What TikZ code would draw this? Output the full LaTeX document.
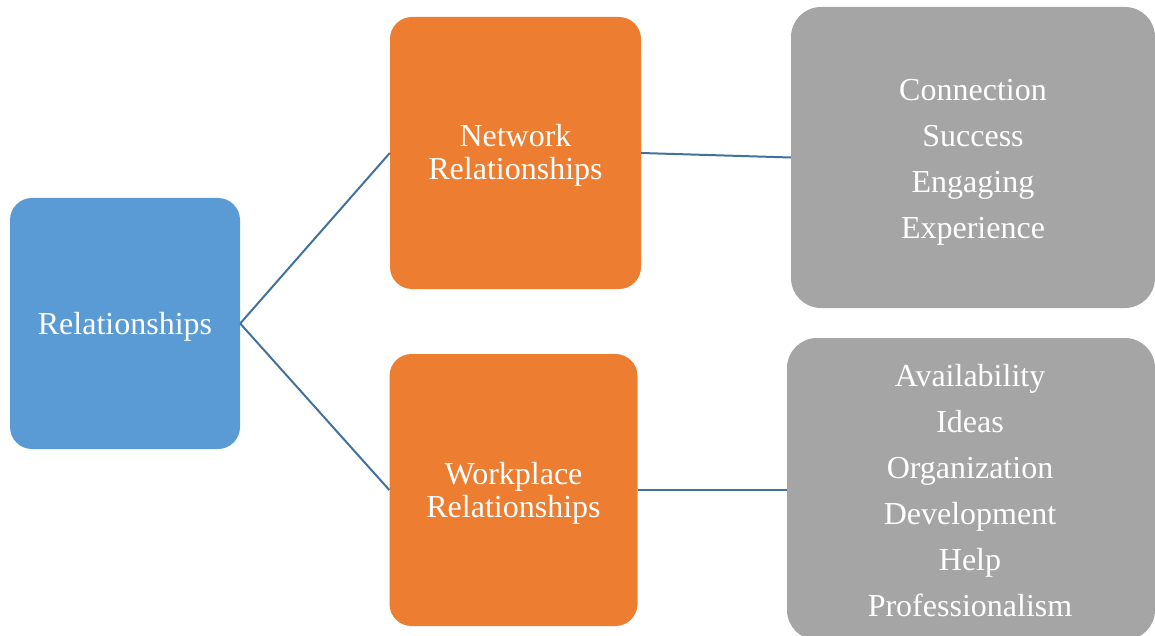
\documentclass[tikz,border=0pt]{standalone}
\usepackage{fontspec}
\setmainfont{Liberation Serif}
\definecolor{cblue}{HTML}{5B9BD5}
\definecolor{corange}{HTML}{ED7D31}
\definecolor{cgray}{HTML}{A5A5A5}
\definecolor{cline}{HTML}{41719C}
\begin{document}
\begin{tikzpicture}[x=1pt,y=-1pt,
  box/.style={rounded corners=22pt, inner sep=0pt},
  listbox/.style={box, rounded corners=30pt, fill=cgray},
  txt/.style={inner sep=0pt, text=white, align=center, font=\fontsize{32}{33}\selectfont},
  listtxt/.style={txt, font=\fontsize{32}{46}\selectfont},
  link/.style={draw=cline, line width=2pt}]
\useasboundingbox (0,0) rectangle (1155,636);
\node[box, fill=cblue, minimum width=230pt, minimum height=251pt] (rel) at (125,323.5) {};
\node[box, fill=corange, minimum width=251pt, minimum height=272pt] (net) at (515.5,153) {};
\node[box, fill=corange, minimum width=248pt, minimum height=272pt] (work) at (513.5,490) {};
\node[listbox, minimum width=364pt, minimum height=301pt] (ga) at (973,157.5) {};
\node[listbox, minimum width=368pt, minimum height=302pt] (gb) at (971,489) {};
\node[txt] (relt) at ([yshift=-3pt]rel.center) {Relationships};
\node[txt] (nett) at ([yshift=-2pt]net.center) {Network\\Relationships};
\node[txt] (workt) at ([yshift=-3pt]work.center) {Workplace\\Relationships};
\node[listtxt] (gat) at ([yshift=-5pt]ga.center) {Connection\\Success\\Engaging\\Experience};
\node[listtxt] (gbt) at ([yshift=-2pt,xshift=-1pt]gb.center) {Availability\\Ideas\\Organization\\Development\\Help\\Professionalism};
\draw[link] (rel.east) -- (net.west);
\draw[link] (rel.east) -- (work.west);
\draw[link] (net.east) -- (ga.west);
\draw[link] (work.east) -- (work.east -| gb.west);
\end{tikzpicture}
\end{document}
